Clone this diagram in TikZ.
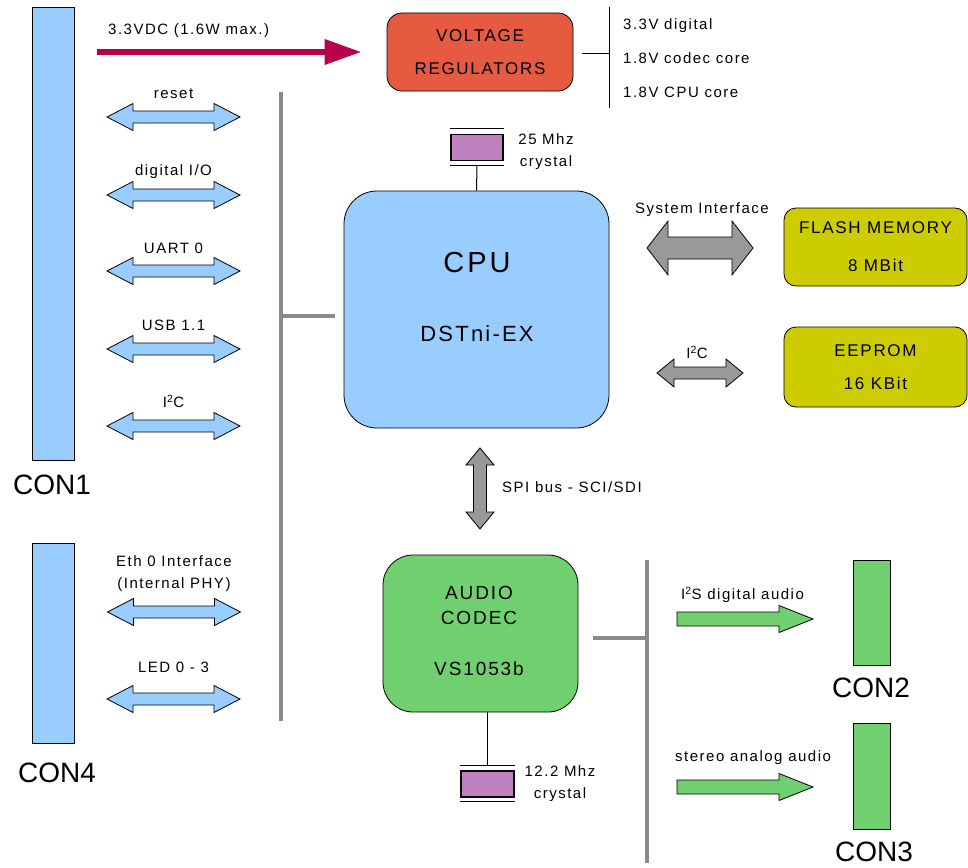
\documentclass[tikz,border=0pt]{standalone}
\usepackage{fontspec}
\setmainfont{Liberation Sans}[LetterSpace=10]
\newfontfamily\confont{Liberation Sans}
\usetikzlibrary{arrows.meta}

\definecolor{conblue}{RGB}{153,204,255}
\definecolor{regred}{RGB}{229,90,64}
\definecolor{pwrred}{RGB}{184,0,76}
\definecolor{memyellow}{RGB}{204,204,0}
\definecolor{codecgreen}{RGB}{112,208,112}
\definecolor{xtalpurple}{RGB}{192,128,192}
\definecolor{arrgray}{RGB}{153,153,153}
\definecolor{busgray}{RGB}{138,138,138}

% block arrow with two heads: options, x, y, half length, half height, half shaft, head length
\newcommand\dblarr[7]{%
  \draw[line width=0.8pt, shift={(#2,#3)}, #1]
    (-#4,0) -- (-#4+#7,-#5) -- (-#4+#7,-#6) -- (#4-#7,-#6) -- (#4-#7,-#5) -- (#4,0)
    -- (#4-#7,#5) -- (#4-#7,#6) -- (-#4+#7,#6) -- (-#4+#7,#5) -- cycle;}
% block arrow with one head: options, x of tail, y, length, half height, half shaft, head length
\newcommand\sglarr[7]{%
  \draw[line width=0.8pt, shift={(#2,#3)}, #1]
    (0,-#6) -- (#4-#7,-#6) -- (#4-#7,-#5) -- (#4,0) -- (#4-#7,#5) -- (#4-#7,#6) -- (0,#6) -- cycle;}

\tikzset{
  lbl/.style={font=\fontsize{15}{22}\selectfont, inner sep=0pt, text height=10.7pt, text depth=0pt},
  lbltwo/.style={font=\fontsize{15}{22}\selectfont, inner sep=0pt, align=center},
  conlbl/.style={font=\confont\fontsize{28}{30}\selectfont, inner sep=0pt, text height=20pt, text depth=0pt},
  conbox/.style={draw, fill=#1, line width=0.8pt, inner sep=0pt},
  blockbox/.style={draw, fill=#1, line width=0.8pt, inner sep=0pt, align=center,
    font=\fontsize{17}{33}\selectfont},
  xtal/.style={draw, fill=xtalpurple, line width=1.2pt, inner sep=0pt,
    minimum width=52pt, minimum height=26pt},
  xtalline/.style={line width=1pt},
  bus/.style={busgray, line width=4pt},
}

\begin{document}
\begin{tikzpicture}[x=1pt,y=-1pt]
  \useasboundingbox (0,0) rectangle (968,867);

  \node[conbox=conblue, minimum width=42pt, minimum height=453pt] (con1) at (53,233.5) {};
  \node[conlbl] (con1lbl) at (52,484) {CON1};
  \node[conbox=conblue, minimum width=42pt, minimum height=200pt] (con4) at (53,643) {};
  \node[conlbl] (con4lbl) at (57,772) {CON4};

  \node[blockbox=regred, rounded corners=15pt, minimum width=186pt, minimum height=78pt] (vreg) at (480,52) {VOLTAGE\\REGULATORS};
  \draw[pwrred, line width=6.5pt, -{Triangle[length=37pt,width=24pt]}, shorten <=23pt, shorten >=25pt]
    (con1.north east |- vreg.west) -- (vreg.west);
  \node[lbl, anchor=west] (pwrlbl) at (108,29) {3.3VDC (1.6W max.)};

  \coordinate (vtap) at (609,54);
  \coordinate (vtop) at (609,7);
  \coordinate (vbot) at (609,108);
  \draw[line width=1pt] ([xshift=9pt]vreg.east |- vtap) -- (vtap);
  \draw[line width=1pt] (vtop) -- (vbot);
  \node[lbl, anchor=west] (v33) at (623,24) {3.3V digital};
  \node[lbl, anchor=west] (v18c) at (623,58) {1.8V codec core};
  \node[lbl, anchor=west] (v18p) at (623,92) {1.8V CPU core};

  \node[blockbox=conblue, rounded corners=33pt, minimum width=265pt, minimum height=237pt] (cpu) at (476.5,309.5) {};
  \node[inner sep=0pt, font=\fontsize{29}{30}\selectfont, text height=20.8pt, text depth=0pt] (cputitle) at (477,262) {CPU};
  \node[inner sep=0pt, font=\fontsize{22}{24}\selectfont, text height=15.8pt, text depth=0pt] (cpuname) at (477,334) {DSTni-EX};

  \node[xtal] (xtal1) at (477,147.5) {};
  \draw[xtalline] ([yshift=5pt]xtal1.north west) -- ([yshift=5pt]xtal1.north east);
  \draw[xtalline] ([yshift=-4pt]xtal1.south west) -- ([yshift=-4pt]xtal1.south east);
  \draw[xtalline] ([yshift=-4pt]xtal1.south) -- (cpu.north);
  \node[lbltwo] (xtal1lbl) at (546,151.5) {25 Mhz\\crystal};

  \dblarr{fill=arrgray}{700}{248}{53}{27}{11}{21}
  \node[lbl] (syslbl) at (702,208) {System Interface};
  \node[blockbox=memyellow, rounded corners=12pt, minimum width=183pt, minimum height=78pt] (flash) at (875.5,247) {FLASH MEMORY\\[5pt]8 MBit};
  \dblarr{fill=arrgray}{700}{373}{43}{14}{6}{17}
  \node[lbl] (i2clbl) at (697,353) {I\textsuperscript{2}C};
  \node[blockbox=memyellow, rounded corners=12pt, minimum width=183pt, minimum height=80pt] (eeprom) at (875.5,367) {EEPROM\\16 KBit};

  \coordinate (bus1top) at (281,92);
  \coordinate (bus1bot) at (281,721);
  \coordinate (bus1tap) at (281,316);
  \draw[bus] (bus1top) -- (bus1bot);
  \draw[bus] (bus1tap) -- ([xshift=-9pt]cpu.west |- bus1tap);

  \foreach \y/\ly/\nm/\txt in {117/93/rst/reset, 195/170/dio/{digital I/O}, 271/248/uart/UART 0,
      349/325/usb/USB 1.1, 426/402/iic/I\textsuperscript{2}C, 699/667/led/LED 0 - 3} {
    \dblarr{fill=conblue}{173.5}{\y}{66.5}{13.5}{6}{26}
    \node[lbl] (lbl\nm) at (173.5,\ly) {\txt};
  }
  \dblarr{fill=conblue}{174}{612}{66.5}{13.5}{6}{26}
  \node[lbltwo] (lbleth) at (174,573.5) {Eth 0 Interface\\(Internal PHY)};

  \dblarr{fill=arrgray, rotate=90}{480}{488.5}{40.5}{14}{6.5}{17}
  \node[lbl, anchor=west] (spilbl) at (502,487) {SPI bus - SCI/SDI};

  \node[blockbox=codecgreen, rounded corners=30pt, minimum width=195pt, minimum height=157pt] (codec) at (480.5,633.5) {};
  \node[inner sep=0pt, align=center, font=\fontsize{19}{25}\selectfont] (codecttl) at (479,605) {AUDIO\\CODEC};
  \node[inner sep=0pt, font=\fontsize{19}{21}\selectfont, text height=13.6pt, text depth=0pt] (codecname) at (479,669) {VS1053b};

  \coordinate (bus2top) at (647,560);
  \coordinate (bus2bot) at (647,863);
  \coordinate (bus2tap) at (647,638);
  \draw[bus] (bus2top) -- (bus2bot);
  \draw[bus] (bus2tap) -- ([xshift=15pt]codec.east |- bus2tap);

  \node[xtal, minimum width=53pt] (xtal2) at (487.5,784) {};
  \draw[xtalline] ([yshift=5pt]xtal2.north west) -- ([yshift=5pt]xtal2.north east);
  \draw[xtalline] ([yshift=-4pt]xtal2.south west) -- ([yshift=-4pt]xtal2.south east);
  \draw[xtalline] (xtal2.north |- codec.south) -- ([yshift=5pt]xtal2.north);
  \node[lbltwo] (xtal2lbl) at (560,783.5) {12.2 Mhz\\crystal};

  \sglarr{fill=codecgreen}{677}{619}{136}{13.5}{7}{34}
  \node[lbl, anchor=west] (i2slbl) at (681,594) {I\textsuperscript{2}S digital audio};
  \node[conbox=codecgreen, minimum width=37pt, minimum height=105pt] (con2) at (871.5,612.5) {};
  \node[conlbl] (con2lbl) at (871,687.5) {CON2};

  \sglarr{fill=codecgreen}{677}{787}{136}{13.5}{7}{34}
  \node[lbl, anchor=west] (analbl) at (675,756) {stereo analog audio};
  \node[conbox=codecgreen, minimum width=37pt, minimum height=106pt] (con3) at (871.5,776) {};
  \node[conlbl] (con3lbl) at (874,851) {CON3};
\end{tikzpicture}
\end{document}
